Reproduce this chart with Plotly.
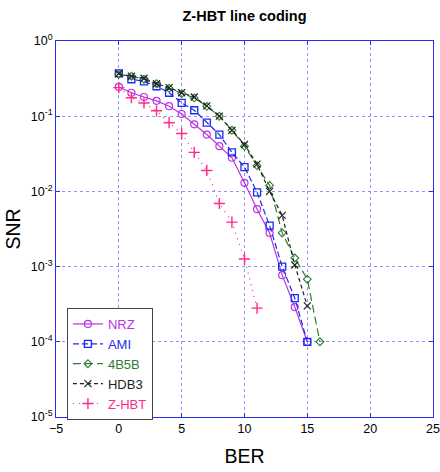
import plotly.graph_objects as go

ber_nrz = list(range(0, 16))
snr_nrz = [0.245, 0.205, 0.18, 0.16, 0.136, 0.107, 0.078, 0.057, 0.04, 0.028,
           0.013, 0.0058, 0.0028, 0.00077, 0.00029, 0.0001]

ber_ami = list(range(0, 16))
snr_ami = [0.37, 0.31, 0.29, 0.25, 0.205, 0.15, 0.12, 0.082, 0.057, 0.033,
           0.021, 0.0097, 0.0035, 0.001, 0.00038, 0.0001]

ber_4b5b = list(range(0, 17))
snr_4b5b = [0.36, 0.34, 0.31, 0.27, 0.235, 0.2, 0.175, 0.135, 0.1, 0.065,
            0.04, 0.022, 0.012, 0.0028, 0.0013, 0.00068, 0.0001]

ber_hdb3 = list(range(0, 16))
snr_hdb3 = [0.37, 0.34, 0.32, 0.27, 0.24, 0.205, 0.18, 0.137, 0.1, 0.065,
            0.042, 0.023, 0.010, 0.0048, 0.00105, 0.0003]

ber_zhbt = list(range(0, 12))
snr_zhbt = [0.24, 0.176, 0.15, 0.118, 0.082, 0.059, 0.033, 0.019, 0.0069,
            0.0039, 0.00126, 0.00028]

x_ticks = [-5, 0, 5, 10, 15, 20, 25]
y_ticks = [1, 0.1, 0.01, 0.001, 0.0001, 0.00001]
y_tick_text = ["10<sup>0</sup>", "10<sup>-1</sup>", "10<sup>-2</sup>",
               "10<sup>-3</sup>", "10<sup>-4</sup>", "10<sup>-5</sup>"]

C_NRZ = "#b832e6"
C_AMI = "#1a2cf0"
C_4B5B = "#2e7d32"
C_HDB3 = "#222222"
C_ZHBT = "#ff2a8a"

fig = go.Figure()

def lbl(t, c):
    return f"<span style='color:{c}'>{t}</span>"

fig.add_trace(go.Scatter(x=ber_nrz, y=snr_nrz, name=lbl("NRZ", C_NRZ), mode="lines+markers",
                         line=dict(color=C_NRZ, width=1.2),
                         marker=dict(symbol="circle-open", size=7, color=C_NRZ, line=dict(width=1.2))))
fig.add_trace(go.Scatter(x=ber_ami, y=snr_ami, name=lbl("AMI", C_AMI), mode="lines+markers",
                         line=dict(color=C_AMI, width=1.2, dash="6px,3px"),
                         marker=dict(symbol="square-open", size=7, color=C_AMI, line=dict(width=1.3))))
fig.add_trace(go.Scatter(x=ber_4b5b, y=snr_4b5b, name=lbl("4B5B", C_4B5B), mode="lines+markers",
                         line=dict(color=C_4B5B, width=1.2, dash="8px,4px"),
                         marker=dict(symbol="diamond-open", size=6, color=C_4B5B, line=dict(width=1.1))))
fig.add_trace(go.Scatter(x=ber_hdb3, y=snr_hdb3, name=lbl("HDB3", C_HDB3), mode="lines+markers",
                         line=dict(color=C_HDB3, width=1.2, dash="4px,3px"),
                         marker=dict(symbol="x-thin-open", size=7, color=C_HDB3, line=dict(width=1.2))))
fig.add_trace(go.Scatter(x=ber_zhbt, y=snr_zhbt, name=lbl("Z-HBT", C_ZHBT), mode="lines+markers",
                         line=dict(color=C_ZHBT, width=1.2, dash="1px,5px"),
                         marker=dict(symbol="cross-thin-open", size=8, color=C_ZHBT, line=dict(width=1.4))))

axis_blue = "#2a2aff"
grid_col = "rgba(120,120,255,0.8)"

fig.update_layout(
    width=440, height=472,
    margin=dict(l=56, r=7, t=41, b=55),
    paper_bgcolor="white", plot_bgcolor="white",
    font=dict(family="Liberation Sans, Arial, sans-serif", size=12, color="black"),
    title=dict(text="<b>Z-HBT line coding</b>", x=(56 + 433) / 2 / 440, xanchor="center",
               y=1 - 16 / 472, yanchor="middle", font=dict(size=14.5, color="black")),
    showlegend=True,
    legend=dict(x=0.029, y=0.29, xanchor="left", yanchor="top",
                bgcolor="white", bordercolor="#444444", borderwidth=1,
                font=dict(size=13), tracegroupgap=0, itemwidth=30),
    xaxis=dict(range=[-5, 25], tickvals=x_ticks, ticks="inside", ticklen=4,
               tickcolor=axis_blue, showline=True, linecolor=axis_blue, linewidth=1,
               mirror="ticks", showgrid=True, gridcolor=grid_col, griddash="dot",
               gridwidth=1, zeroline=False, automargin=False,
               title=dict(text="BER", font=dict(size=19.5), standoff=14),
               tickfont=dict(size=12.5)),
    yaxis=dict(type="log", range=[-5, 0], tickvals=y_ticks, ticktext=y_tick_text,
               ticks="inside", ticklen=4, tickcolor=axis_blue, showline=True,
               linecolor=axis_blue, linewidth=1, mirror="ticks", showgrid=True,
               gridcolor=grid_col, griddash="dot", gridwidth=1, zeroline=False,
               automargin=False,
               title=dict(text="SNR", font=dict(size=19.5), standoff=4),
               tickfont=dict(size=12.5)),
)

fig.write_html("out.html", config={"displayModeBar": False},
               post_script="document.body.style.margin='0';document.body.style.padding='0';")
